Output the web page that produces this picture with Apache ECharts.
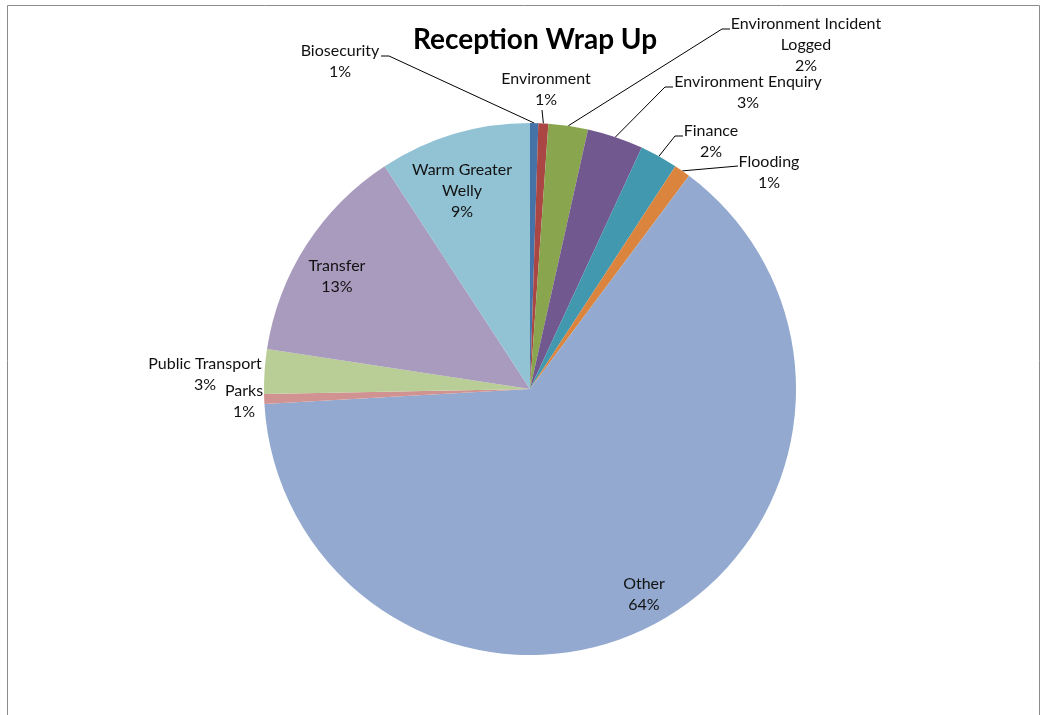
<!DOCTYPE html>
<html>
<head>
<meta charset="utf-8">
<script src="https://cdn.jsdelivr.net/npm/echarts@6/dist/echarts.min.js"></script>
<style>
  html, body { margin: 0; padding: 0; background: #fff; }
  #chart { width: 1044px; height: 715px; }
</style>
</head>
<body>
<div id="chart"></div>
<script>
// Reception enquiries by topic (share of all enquiries, %)
const categories = [
  'Biosecurity', 'Environment', 'Environment Incident Logged', 'Environment Enquiry',
  'Finance', 'Flooding', 'Other', 'Parks', 'Public Transport', 'Transfer', 'Warm Greater Welly'
];
const values = [0.5, 0.6, 2.4, 3.4, 2.3, 1.0, 63.9, 0.6, 2.7, 13.4, 9.2];
// Names as they wrap on the chart
const labelNames = [
  'Biosecurity', 'Environment', 'Environment Incident\nLogged', 'Environment Enquiry',
  'Finance', 'Flooding', 'Other', 'Parks', 'Public Transport', 'Transfer', 'Warm Greater\nWelly'
];
const colors = [
  '#4572A7', '#AA4643', '#89A54E', '#71588F', '#4198AF', '#DB843D',
  '#93A9CF', '#D19392', '#B9CD96', '#A99BBD', '#92C3D5'
];

const CENTER = [530, 389];
const RADIUS = 266;

// Label placement: centre of each label block, plus leader-line path (after the slice edge)
const labelPlacement = {
  'Biosecurity':                 { at: [340, 61],  line: [[389, 56], [381, 56]] },
  'Environment':                 { at: [546, 89],  line: [[542, 110]] },
  'Environment Incident Logged': { at: [806, 45],  line: [[722, 29], [730, 29]] },
  'Environment Enquiry':         { at: [748, 92],  line: [[665, 87], [673, 87]] },
  'Finance':                     { at: [711, 141], line: [[675, 136], [683, 136]] },
  'Flooding':                    { at: [769, 172], line: [[738, 166]] },
  'Other':                       { at: [644, 594] },
  'Parks':                       { at: [244, 401] },
  'Public Transport':            { at: [205, 374] },
  'Transfer':                    { at: [337, 276] },
  'Warm Greater Welly':          { at: [462, 191] }
};

const total = values.reduce((a, b) => a + b, 0);
const pct = v => Math.round(v * 100 / total + 1e-9);

// Mid-angle of each slice (clockwise from 12 o'clock) for leader-line anchors
const midAngles = [];
(function () {
  let acc = 0;
  values.forEach(v => {
    const a0 = acc / total * 360;
    acc += v;
    const a1 = acc / total * 360;
    midAngles.push((a0 + a1) / 2);
  });
})();
function edgePoint(i) {
  const rad = midAngles[i] * Math.PI / 180;
  return [CENTER[0] + RADIUS * Math.sin(rad), CENTER[1] - RADIUS * Math.cos(rad)];
}

const data = categories.map((name, i) => {
  const place = labelPlacement[name];
  return {
    name: name,
    value: values[i],
    itemStyle: { color: colors[i] },
    labelLine: { show: !!place.line }
  };
});

const chart = echarts.init(document.getElementById('chart'), null, { renderer: 'canvas' });
chart.setOption({
  backgroundColor: '#ffffff',
  animation: false,
  title: {
    text: 'Reception Wrap Up',
    left: 530,
    top: 21,
    textAlign: 'center',
    textStyle: { fontFamily: 'Lato', fontWeight: 'bold', fontSize: 28, color: '#000' }
  },
  graphic: [{
    type: 'rect',
    shape: { x: 7.5, y: 5.5, width: 1032, height: 730 },
    style: { fill: null, stroke: '#8c8c8c', lineWidth: 1 },
    silent: true
  }],
  series: [{
    type: 'pie',
    center: CENTER,
    radius: RADIUS,
    startAngle: 90,
    clockwise: true,
    avoidLabelOverlap: false,
    minAngle: 0,
    itemStyle: { borderWidth: 0 },
    label: {
      show: true,
      position: 'outside',
      fontFamily: 'Lato',
      fontSize: 16,
      lineHeight: 21,
      color: '#111',
      align: 'center',
      formatter: p => labelNames[p.dataIndex] + '\n' + pct(values[p.dataIndex]) + '%'
    },
    labelLine: {
      show: true,
      lineStyle: { color: '#000', width: 1 },
      length: 10,
      length2: 10,
      smooth: false
    },
    labelLayout: function (params) {
      const i = params.dataIndex;
      const place = labelPlacement[categories[i]];
      const out = { x: place.at[0], y: place.at[1], align: 'center', verticalAlign: 'middle' };
      if (place.line) {
        out.labelLinePoints = [edgePoint(i)].concat(place.line);
      }
      return out;
    },
    data: data
  }]
});
</script>
</body>
</html>
